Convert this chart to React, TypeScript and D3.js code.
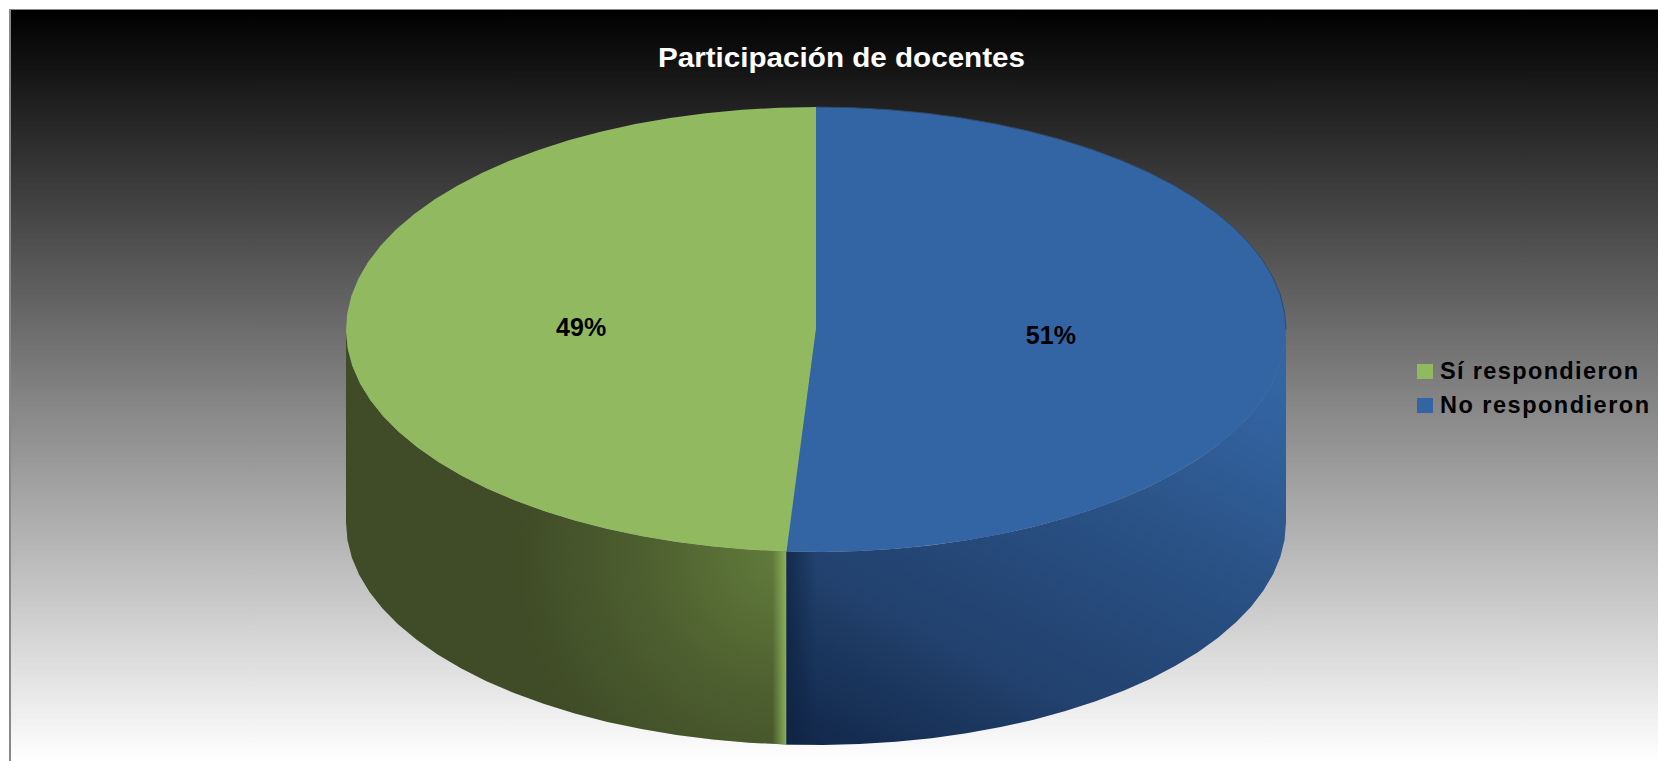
import React from "react";
import * as d3 from "d3";

const categories = ["Sí respondieron", "No respondieron"];
const shares = [49, 51];
const labels = ["49%", "51%"];
const topColors = ["#91b95f", "#3364a3"];
const title = "Participación de docentes";

const W = 1658, H = 761;
const cx = 816, cy = 329.5, rx = 470, ry = 222.5, depth = 193;
const font = "'Liberation Sans', Arial, sans-serif";

const xS = d3.scaleLinear().domain([-1, 1]).range([cx - rx, cx + rx]);
const yS = d3.scaleLinear().domain([-1, 1]).range([cy + ry, cy - ry]);
const ptX = (t: number) => xS(Math.sin(t));
const ptY = (t: number) => yS(Math.cos(t));

const total = d3.sum(shares);
const start = (-shares[0] / total) * 2 * Math.PI;
const pie = d3.pie<number>().sort(null).startAngle(start).endAngle(start + 2 * Math.PI);
const arcs = pie(shares);

const samples = (a: number, b: number) => {
  const n = Math.max(2, Math.round(Math.abs(b - a) / (Math.PI / 40)));
  return d3.range(0, n + 1).map((i) => a + ((b - a) * i) / n);
};
const line = d3.line<[number, number]>();

function topPath(a: number, b: number) {
  const pts = samples(a, b).map((t) => [ptX(t), ptY(t)] as [number, number]);
  return line([[cx, cy], ...pts]) + "Z";
}
function wallPath(a: number, b: number) {
  const ts = samples(a, b);
  const up = ts.map((t) => [ptX(t), ptY(t)] as [number, number]);
  const down = [...ts].reverse().map((t) => [ptX(t), ptY(t) + depth] as [number, number]);
  return line([...up, ...down]) + "Z";
}

export default function App() {
  const blue = arcs[1];
  const seam = blue.endAngle;
  const seamX = ptX(seam);
  const seamY = ptY(seam);
  const greenWall = wallPath(seam, 1.5 * Math.PI);
  const blueWall = wallPath(Math.PI / 2, seam);
  return (
    <svg
      width={W}
      height={H}
      viewBox={`0 0 ${W} ${H}`}
      style={{ position: "absolute", left: 0, top: 0, display: "block", background: "#fff" }}
    >
      <defs>
        <linearGradient id="bg" x1="0" y1="0" x2="0" y2="1">
          <stop offset="0" stopColor="#000" />
          <stop offset="1" stopColor="#fff" />
        </linearGradient>
        <linearGradient id="blueBase" gradientUnits="userSpaceOnUse" x1={800} y1={745} x2={1076} y2={220}>
          <stop offset="0" stopColor="#12274a" />
          <stop offset="0.18" stopColor="#1c3860" />
          <stop offset="0.27" stopColor="#22416e" />
          <stop offset="0.42" stopColor="#254878" />
          <stop offset="0.6" stopColor="#2a5286" />
          <stop offset="0.75" stopColor="#2f5c95" />
          <stop offset="0.9" stopColor="#3364a3" />
        </linearGradient>
        <linearGradient id="blueEdge" gradientUnits="userSpaceOnUse" x1={seamX} y1={0} x2={seamX + 30} y2={0}>
          <stop offset="0" stopColor="#0f2342" stopOpacity="0.75" />
          <stop offset="1" stopColor="#0f2342" stopOpacity="0" />
        </linearGradient>
        <radialGradient id="greenGlow" gradientUnits="userSpaceOnUse" cx={seamX} cy={seamY} r={270}>
          <stop offset="0" stopColor="#637d3c" stopOpacity="1" />
          <stop offset="0.5" stopColor="#637d3c" stopOpacity="0.42" />
          <stop offset="1" stopColor="#637d3c" stopOpacity="0" />
        </radialGradient>
        <linearGradient id="greenEdge" gradientUnits="userSpaceOnUse" x1={seamX - 14} y1={0} x2={seamX} y2={0}>
          <stop offset="0" stopColor="#8bb05a" stopOpacity="0" />
          <stop offset="1" stopColor="#8bb05a" stopOpacity="1" />
        </linearGradient>
      </defs>

      <rect x={9} y={9} width={W - 9} height={H - 9} fill="#888" />
      <rect x={11} y={10} width={W - 11} height={H - 10} fill="url(#bg)" />

      <text x={841.5} y={67} textAnchor="middle" fontFamily={font} fontWeight="bold" fontSize={28} fill="#fff" textLength={367} lengthAdjust="spacingAndGlyphs">
        {title}
      </text>

      <path d={greenWall} fill="#3f4c27" />
      <path d={greenWall} fill="url(#greenGlow)" />
      <path d={greenWall} fill="url(#greenEdge)" />
      <path d={blueWall} fill="url(#blueBase)" />
      <path d={blueWall} fill="url(#blueEdge)" />

      {arcs.map((a, i) => (
        <path key={categories[i]} d={topPath(a.startAngle, a.endAngle)} fill={topColors[i]} />
      ))}
      <path
        d={line(samples(0, Math.PI / 2).map((t) => [ptX(t), ptY(t)] as [number, number])) ?? ""}
        fill="none"
        stroke="#2c4a70"
        strokeWidth={1}
      />

      {arcs.map((a, i) => {
        const mid = (a.startAngle + a.endAngle) / 2;
        return (
          <text
            key={labels[i]}
            x={cx + rx * 0.5 * Math.sin(mid)}
            y={cy + 6.5 + (i === 0 ? 0 : 8)}
            textAnchor="middle"
            fontFamily={font}
            fontWeight="bold"
            fontSize={25}
            fill="#000"
          >
            {labels[i]}
          </text>
        );
      })}

      {categories.map((c, i) => (
        <g key={c} transform={`translate(1417,${364 + i * 34})`}>
          <rect width={16} height={15} fill={topColors[i]} />
          <text x={23} y={15} fontFamily={font} fontWeight="bold" fontSize={23.5} fill="#000" textLength={i === 0 ? 198 : 209}>
            {c}
          </text>
        </g>
      ))}
    </svg>
  );
}
